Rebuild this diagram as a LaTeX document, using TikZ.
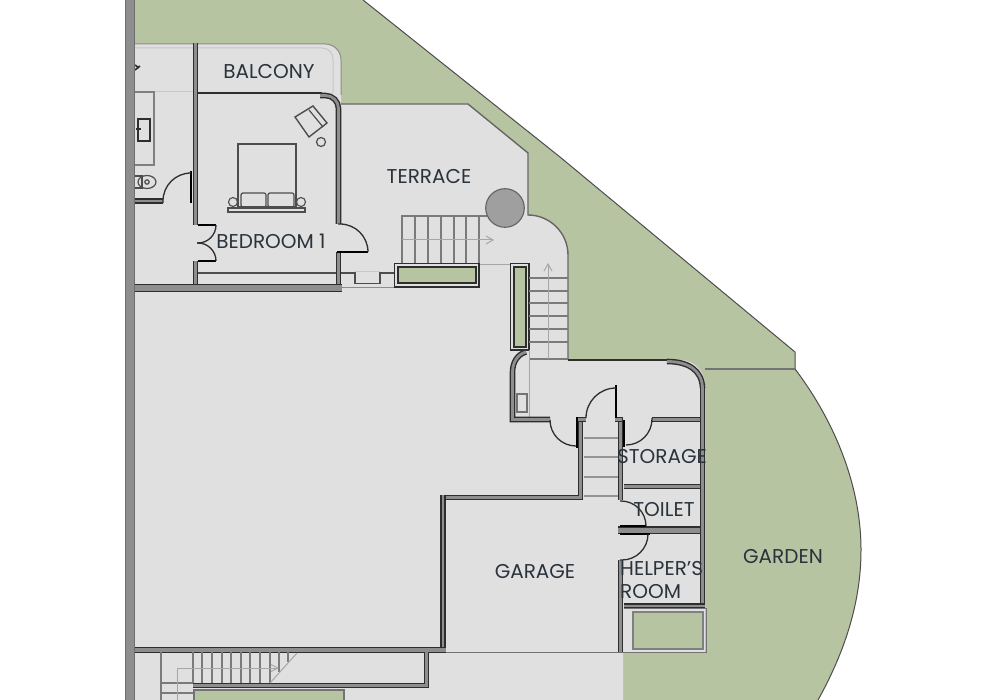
\documentclass[tikz,border=0pt]{standalone}
\usepackage{fontspec}
\setmainfont{Poppins}
\usetikzlibrary{arrows.meta}
\definecolor{lawn}{HTML}{B7C4A2}
\definecolor{floorg}{HTML}{E0E0E0}
\definecolor{wallg}{HTML}{8E8E8E}
\definecolor{ink}{HTML}{2E2E2E}
\definecolor{labelc}{HTML}{2A323C}
\tikzset{
  edge/.style={draw=ink!85,line width=1pt},
  wall/.style={draw=ink,line width=1.4pt,double=wallg,double distance=2.8pt},
  bigwall/.style={draw=ink!70,line width=1.2pt,double=wallg,double distance=8pt},
  thinwall/.style={draw=ink,line width=2pt},
  leaf/.style={draw=black,line width=2.6pt},
  swing/.style={draw=ink,line width=1.3pt},
  fine/.style={draw=ink!85,line width=1.2pt},
  pale/.style={draw=black!35,line width=1pt},
  tread/.style={draw=black!52,line width=1.2pt},
  planter/.style={draw=ink,line width=1.6pt,fill=floorg},
  soil/.style={draw=ink,line width=1.4pt,fill=lawn},
  lbl/.style={text=labelc,font=\fontsize{20}{24}\selectfont,inner sep=0pt,align=left}
}
\begin{document}
\begin{tikzpicture}[x=1pt,y=-1pt]
\useasboundingbox (0,0) rectangle (1000,700);
\fill[white] (0,0) rectangle (1000,700);
% garden
\fill[lawn] (135,0) -- (363,0) -- (560,157) -- (795,352) -- (795,369)
  .. controls (830,415) and (861,480) .. (861,550)
  .. controls (861,605) and (843,655) .. (818,700) -- (135,700) -- cycle;
\draw[edge] (363,0) -- (560,157) -- (795,352) -- (795,369)
  .. controls (830,415) and (861,480) .. (861,550)
  .. controls (861,605) and (843,655) .. (818,700);
\draw[draw=black!55,line width=1.2pt] (705,369) -- (795,369);
% floor
\fill[floorg] (135,44) -- (325,44) .. controls (334,44) and (341,51) .. (341,60) -- (341,104)
  -- (468,104) -- (528,153) -- (528,215) .. controls (550,215) and (568,233) .. (568,255)
  -- (568,360) -- (680,360) .. controls (695,360) and (705,372) .. (705,385) -- (705,652) -- (623,652)
  -- (623,700) -- (135,700) -- cycle;
\draw[draw=black!45,line width=1pt] (135,44) -- (325,44) .. controls (334,44) and (341,51) .. (341,60) -- (341,95);
\draw[draw=black!60,line width=1.4pt] (341,104) -- (468,104) -- (528,153) -- (528,215) .. controls (550,215) and (568,233) .. (568,255) -- (568,360);
% pale balcony rail
\draw[pale,draw=black!22] (135,48) -- (322,48) .. controls (329,48) and (333,53) .. (333,60) -- (333,93);
\draw[pale,draw=black!22] (135,92) -- (193,92);
% left bath
\draw[draw=black!50,line width=1.1pt] (135,92) -- (154,92) -- (154,165) -- (135,165);
\draw[draw=ink,line width=1.5pt] (138,119) rectangle (150,141);
\draw[ink,line width=1.6pt] (136,129) -- (141,129);
\draw[ink,line width=1.6pt] (135,70) -- (140,66) (135,65) -- (139,68);
\draw[fine] (135,176) -- (142,176) -- (142,188) -- (135,188);
\draw[fine] (147,182) ellipse (9 and 6.5);
\draw[fine] (147,182) circle (2.2);
% bedroom furniture
\draw[fine] (238,144) rectangle (296,207);
\draw[fine,rounded corners=2] (241,193) rectangle (266,207);
\draw[fine,rounded corners=2] (268,193) rectangle (294,207);
\draw[fine,line width=1.4pt] (228,208) rectangle (305,212);
\filldraw[fill=floorg,draw=ink!85,line width=1.1pt] (233,202) circle (4.5);
\filldraw[fill=floorg,draw=ink!85,line width=1.1pt] (301,202) circle (4.5);
\draw[fine,line width=1.4pt] (295,117) -- (313,106) -- (327,123) -- (309,137) -- cycle;
\draw[fine] (309,110) -- (323,127);
\draw[fine] (321,142) circle (4.5);
% terrace stair
\draw[tread] (487,216) -- (402,216) -- (402,263);
\foreach \x in {415,428,441,454,466,479} \draw[tread] (\x,216) -- (\x,263);
\draw[pale,-{Straight Barb[length=7pt,width=8pt]}] (402,240) -- (494,240);
\draw[pale] (479,265) -- (511,265);
\filldraw[fill=wallg!85,draw=ink!75,line width=1.1pt] (505,208) circle (19.3);
% steps near door
\draw[fine,line width=1.3pt] (341,273) -- (355,273) -- (355,283.5) -- (380,283.5) -- (380,273) -- (394,273);
\draw[draw=black!22,line width=1pt] (355,272) -- (380,272);
\draw[draw=black!45,line width=1pt] (341,287.5) -- (394,287.5);
% planters
\draw[planter] (394.5,263.5) rectangle (479,287);
\draw[soil] (398,267) rectangle (476,283);
\draw[planter] (510.5,263.5) rectangle (529,350);
\draw[soil] (514,267) rectangle (526,347);
% stair north
\foreach \y in {278,291,303,316,329,342} \draw[tread] (529,\y) -- (568,\y);
\draw[tread] (529,359) -- (568,359);
\draw[pale,-{Straight Barb[length=7pt,width=8pt]}] (548,359) -- (548,263);
\draw[pale] (529,350) -- (529,418);
\draw[fine,draw=black!55] (517,394) rectangle (527,412);
% bedroom walls
\draw[bigwall] (130,0) -- (130,700);
\draw[wall] (195.5,43) -- (195.5,225);
\draw[wall] (195.5,261) -- (195.5,284);
\draw[thinwall] (198,93) -- (322,93);
\draw[wall,rounded corners=13] (320,95.5) -- (338.5,95.5) -- (338.5,224);
\draw[wall] (338.5,252) -- (338.5,288);
\draw[bigwall,double distance=6.5pt,draw=ink] (135,288) -- (342,288);
\draw[fine] (198,273) -- (336,273);
\draw[wall] (135,201) -- (163,201);
% doors
\draw[leaf] (191,171) -- (191,203);
\draw[swing,rounded corners=28] (191,173) -- (163,173) -- (163,203);
\draw[leaf,line width=1.8pt] (198,225) -- (216,225);
\draw[leaf,line width=1.8pt] (198,261) -- (216,261);
\draw[swing,rounded corners=18] (216,225) -- (216,243) -- (197,243);
\draw[swing,rounded corners=18] (216,261) -- (216,243) -- (197,243);
\draw[leaf,line width=2pt] (337,252) -- (368,252);
\draw[swing,rounded corners=28] (368,252) -- (368,224) -- (338,224);
% service block walls
\draw[thinwall] (568,360) -- (668,360);
\draw[wall] (667,361.5) .. controls (688,361.5) and (702,370) .. (702.5,388);
\draw[wall] (702.5,388) -- (702.5,608);
\draw[wall] (526,352) .. controls (518,354) and (512.5,362) .. (512.5,372) -- (512.5,419.5) -- (550,419.5);
\draw[wall] (580.5,417) -- (580.5,497.5) -- (446,497.5);
\draw[wall] (443,494.5) -- (443,650);
\draw[wall] (620.5,417) -- (620.5,500);
\draw[wall] (620.5,560) -- (620.5,652);
\draw[wall] (652,419.5) -- (700,419.5);
\draw[wall] (576,419.5) -- (586,419.5);
\draw[wall] (615,419.5) -- (622,419.5);
\draw[wall] (624,486.5) -- (700,486.5);
\draw[wall,double distance=5pt] (618,530) -- (700,530);
\draw[wall] (624,606) -- (705,606);
% door leaves service
\draw[leaf] (577,417) -- (577,448);
\draw[leaf] (624,420) -- (624,447);
\draw[leaf,line width=2.2pt] (616,385) -- (616,418);
\draw[leaf] (620,526) -- (646,526);
\draw[leaf] (620,534) -- (650,534);
\draw[swing,rounded corners=26] (550,420) -- (550,446) -- (576,446);
\draw[swing,rounded corners=30] (616,388) -- (586,388) -- (586,418);
\draw[swing,rounded corners=26] (626,445) -- (652,445) -- (652,418);
\draw[swing,rounded corners=25] (620,501) -- (646,501) -- (646,526);
\draw[swing,rounded corners=26] (620,560) -- (648,560) -- (648,534);
% service stair
\foreach \y in {438,457,477,496} \draw[draw=black!42,line width=1.1pt] (584,\y) -- (618,\y);
% bottom garden bed
\draw[draw=black!55,line width=1pt] (624,608) -- (706,608) -- (706,652) -- (446,652);
\draw[draw=black!50,fill=lawn,line width=1.1pt] (633,612) rectangle (703,649);
% lower walls
\draw[wall,double distance=3.5pt] (135,650) -- (446,650);
\draw[wall] (426.5,652) -- (426.5,685.5) -- (193,685.5);
% bottom stair
\draw[tread] (161,652) -- (161,700);
\draw[tread] (193,652) -- (193,683);
\foreach \x in {202,212,222,231,241,250,260,270} \draw[tread] (\x,652) -- (\x,683);
\draw[tread] (279,652) -- (279,672);
\draw[tread] (288,652) -- (288,662);
\draw[pale] (270,683) -- (297,653);
\draw[tread] (161,683) -- (193,683);
\draw[tread] (161,693) -- (193,693);
\draw[pale,-{Straight Barb[length=7pt,width=7pt]}] (177,700) -- (177,668) -- (279,668);
\draw[draw=black!55,fill=lawn,line width=1.2pt] (194,700) -- (194,690) -- (344,690) -- (344,700);
% labels
\node[lbl] (balcony) at (269,71.7) {BALCONY};
\node[lbl] (terrace) at (429,176.7) {TERRACE};
\node[lbl] (bedroom) at (271,241.7) {BEDROOM 1};
\node[lbl] (garden) at (783,556.7) {GARDEN};
\node[lbl] (garage) at (535,571.7) {GARAGE};
\node[lbl] (storage) at (662,456.7) {STORAGE};
\node[lbl] (toilet) at (664,509.7) {TOILET};
\node[lbl,anchor=west] (helper) at (620,568.7) {HELPER’S};
\node[lbl,anchor=west] (room) at (620,591.7) {ROOM};
\end{tikzpicture}
\end{document}
